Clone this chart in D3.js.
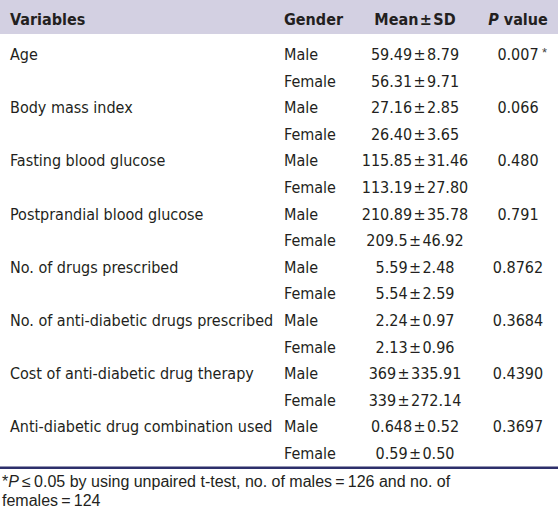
<!DOCTYPE html>
<html><head><meta charset="utf-8">
<script src="https://cdn.jsdelivr.net/npm/d3@7"></script>
<style>
html,body{margin:0;padding:0;background:#fff;}
svg{display:block;}
.cond{font-family:"DejaVu Sans Condensed","Liberation Sans Narrow",sans-serif;}
</style></head>
<body>
<script>
const columns = ["Variables", "Gender", "Mean\u00b1SD", "P value"];
const variables = ["Age", "Body mass index", "Fasting blood glucose", "Postprandial blood glucose",
  "No. of drugs prescribed", "No. of anti-diabetic drugs prescribed",
  "Cost of anti-diabetic drug therapy", "Anti-diabetic drug combination used"];
const genders = ["Male", "Female"];
const maleMean = ["59.49", "27.16", "115.85", "210.89", "5.59", "2.24", "369", "0.648"];
const maleSD = ["8.79", "2.85", "31.46", "35.78", "2.48", "0.97", "335.91", "0.52"];
const femaleMean = ["56.31", "26.40", "113.19", "209.5", "5.54", "2.13", "339", "0.59"];
const femaleSD = ["9.71", "3.65", "27.80", "46.92", "2.59", "0.96", "272.14", "0.50"];
const pValues = ["0.007", "0.066", "0.480", "0.791", "0.8762", "0.3684", "0.4390", "0.3697"];
const significant = [true, false, false, false, false, false, false, false];
const footnote = ["P\u2009\u2264\u20090.05 by using unpaired t-test, no. of males\u2009=\u2009126 and no. of", "females\u2009=\u2009124"];

const W = 558, H = 514;
const ink = "#231f20";
const pm = "\u200a\u00b1\u200a";
const svg = d3.select("body").append("svg").attr("width", W).attr("height", H);

const rows = [];
variables.forEach((v, i) => {
  rows.push({variable: v, gender: genders[0], mean: maleMean[i], sd: maleSD[i], p: pValues[i], sig: significant[i]});
  rows.push({variable: "", gender: genders[1], mean: femaleMean[i], sd: femaleSD[i], p: "", sig: false});
});

const y = d3.scaleBand().domain(d3.range(rows.length)).range([40.6, 466.2]);
const x = d3.scaleOrdinal().domain(columns).range([10, 284, 415, 518]);

svg.append("rect").attr("x", 0).attr("y", 0).attr("width", W).attr("height", 34).attr("fill", "#d3d0e2");

const hdr = svg.append("g").attr("class", "cond").attr("font-size", 16).attr("font-weight", "bold").attr("fill", ink);
hdr.append("text").attr("x", x("Variables")).attr("y", 25).text("Variables");
hdr.append("text").attr("x", x("Gender")).attr("y", 25).text("Gender");
hdr.append("text").attr("x", x("Mean\u00b1SD")).attr("y", 25).attr("text-anchor", "middle").text("Mean" + pm + "SD");
const pt = hdr.append("text").attr("x", x("P value")).attr("y", 25).attr("text-anchor", "middle");
pt.append("tspan").attr("font-style", "italic").text("P");
pt.append("tspan").text(" value");

const body = svg.append("g").attr("class", "cond").attr("font-size", 16).attr("fill", ink);
const rg = body.selectAll("g.row").data(rows).join("g").attr("class", "row")
  .attr("transform", (d, i) => `translate(0,${y(i) + 19.4})`);
rg.append("text").attr("x", x("Variables")).text(d => d.variable);
rg.append("text").attr("x", x("Gender")).text(d => d.gender);
rg.append("text").attr("x", x("Mean\u00b1SD")).attr("text-anchor", "middle").text(d => d.mean + pm + d.sd);
rg.append("text").attr("x", x("P value")).attr("text-anchor", "middle").text(d => d.p);
rg.filter(d => d.sig).append("text").attr("x", x("P value") + 24).attr("y", -3)
  .attr("font-size", 13).attr("font-family", "Liberation Sans, Arial, sans-serif").attr("fill", "#444").text("*");

svg.append("rect").attr("x", 0).attr("y", 466.5).attr("width", W).attr("height", 2.5).attr("fill", "#2d2f6b");

const fn = svg.append("g").attr("font-family", "Liberation Sans, Arial, sans-serif").attr("font-size", 16).attr("fill", ink);
const f1 = fn.append("text").attr("x", 2).attr("y", 487);
f1.append("tspan").text("*");
f1.append("tspan").attr("font-style", "italic").text(footnote[0].slice(0, 1));
f1.append("tspan").text(footnote[0].slice(1));
fn.append("text").attr("x", 2).attr("y", 506).text(footnote[1]);
</script>
</body></html>
